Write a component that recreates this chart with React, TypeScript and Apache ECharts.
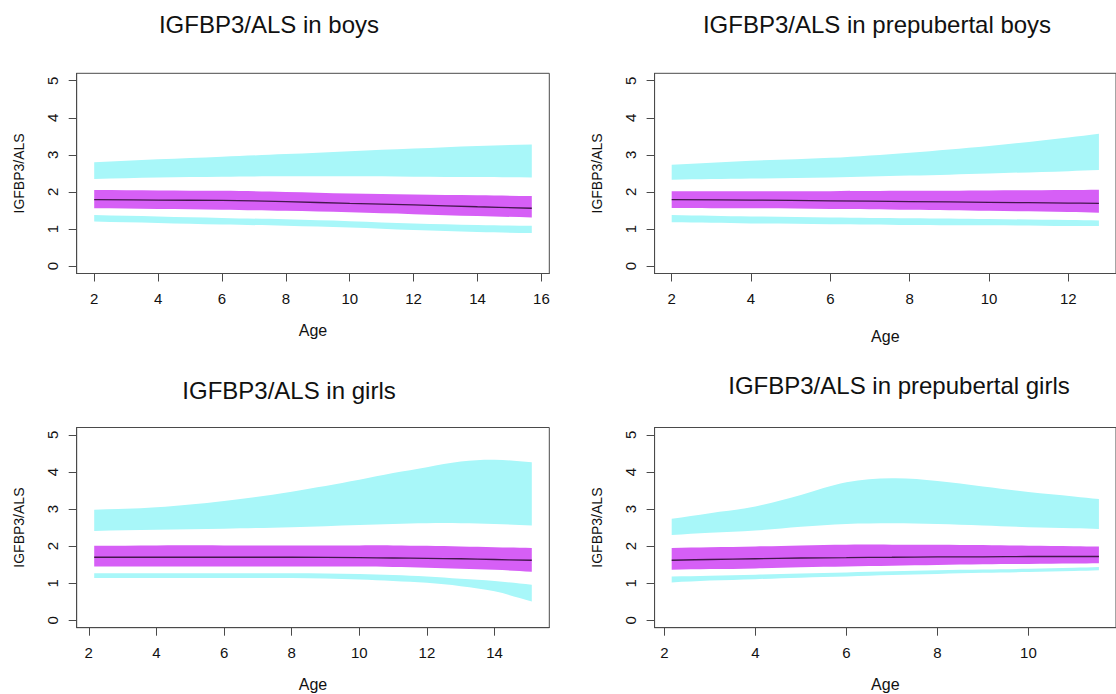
import React, { useEffect, useRef } from "react";
import * as echarts from "echarts";

// ---------- data ----------
const titles = [
  "IGFBP3/ALS in boys",
  "IGFBP3/ALS in prepubertal boys",
  "IGFBP3/ALS in girls",
  "IGFBP3/ALS in prepubertal girls",
];
const xAxisName = "Age";
const yAxisName = "IGFBP3/ALS";
const yTicks = [0, 1, 2, 3, 4, 5];

// Boys
const boysAge = [2, 4, 6, 8, 10, 12, 14, 15.7];
const boysUpperHi = [2.8, 2.88, 2.95, 3.02, 3.1, 3.17, 3.24, 3.28];
const boysUpperLo = [2.35, 2.39, 2.41, 2.42, 2.42, 2.41, 2.4, 2.39];
const boysMedHi = [2.05, 2.04, 2.03, 2.0, 1.96, 1.93, 1.91, 1.89];
const boysMedLo = [1.56, 1.54, 1.52, 1.49, 1.45, 1.4, 1.35, 1.31];
const boysMedian = [1.79, 1.78, 1.77, 1.74, 1.69, 1.65, 1.6, 1.56];
const boysLowerHi = [1.38, 1.34, 1.3, 1.26, 1.21, 1.15, 1.11, 1.09];
const boysLowerLo = [1.2, 1.16, 1.12, 1.09, 1.04, 0.97, 0.92, 0.89];
const boysXTicks = [2, 4, 6, 8, 10, 12, 14, 16];

// Prepubertal boys
const pBoysAge = [2, 4, 6, 8, 10, 12, 12.77];
const pBoysUpperHi = [2.73, 2.84, 2.92, 3.06, 3.24, 3.47, 3.57];
const pBoysUpperLo = [2.33, 2.36, 2.39, 2.44, 2.5, 2.56, 2.59];
const pBoysMedHi = [2.02, 2.02, 2.02, 2.03, 2.04, 2.05, 2.06];
const pBoysMedLo = [1.57, 1.56, 1.54, 1.52, 1.49, 1.46, 1.44];
const pBoysMedian = [1.79, 1.78, 1.76, 1.74, 1.72, 1.7, 1.69];
const pBoysLowerHi = [1.38, 1.34, 1.31, 1.29, 1.27, 1.24, 1.23];
const pBoysLowerLo = [1.18, 1.15, 1.13, 1.11, 1.1, 1.08, 1.08];
const pBoysXTicks = [2, 4, 6, 8, 10, 12];

// Girls
const girlsAge = [2.16, 4, 6, 8, 10, 11, 12, 13, 14, 15.1];
const girlsUpperHi = [2.98, 3.05, 3.22, 3.47, 3.79, 3.97, 4.13, 4.28, 4.33, 4.26];
const girlsUpperLo = [2.41, 2.44, 2.47, 2.51, 2.57, 2.6, 2.62, 2.62, 2.6, 2.56];
const girlsMedHi = [2.01, 2.02, 2.02, 2.02, 2.02, 2.02, 2.01, 1.99, 1.97, 1.95];
const girlsMedLo = [1.45, 1.45, 1.45, 1.45, 1.45, 1.44, 1.42, 1.39, 1.36, 1.31];
const girlsMedian = [1.7, 1.7, 1.7, 1.7, 1.69, 1.68, 1.67, 1.66, 1.64, 1.62];
const girlsLowerHi = [1.27, 1.27, 1.27, 1.27, 1.25, 1.22, 1.18, 1.12, 1.06, 0.96];
const girlsLowerLo = [1.14, 1.14, 1.14, 1.14, 1.1, 1.06, 1.01, 0.92, 0.78, 0.51];
const girlsXTicks = [2, 4, 6, 8, 10, 12, 14];

// Prepubertal girls
const pGirlsAge = [2.16, 3, 4, 5, 6, 7, 8, 9, 10, 11, 11.55];
const pGirlsUpperHi = [2.74, 2.89, 3.07, 3.38, 3.72, 3.83, 3.76, 3.61, 3.46, 3.34, 3.27];
const pGirlsUpperLo = [2.3, 2.36, 2.42, 2.52, 2.6, 2.62, 2.6, 2.56, 2.51, 2.48, 2.46];
const pGirlsMedHi = [1.95, 1.97, 1.99, 2.02, 2.04, 2.04, 2.04, 2.03, 2.01, 2.0, 1.99];
const pGirlsMedLo = [1.36, 1.38, 1.4, 1.43, 1.45, 1.47, 1.49, 1.51, 1.52, 1.53, 1.54];
const pGirlsMedian = [1.62, 1.64, 1.66, 1.68, 1.69, 1.7, 1.71, 1.71, 1.72, 1.72, 1.72];
const pGirlsLowerHi = [1.18, 1.2, 1.23, 1.26, 1.29, 1.32, 1.35, 1.37, 1.39, 1.42, 1.44];
const pGirlsLowerLo = [1.02, 1.07, 1.11, 1.15, 1.18, 1.22, 1.25, 1.28, 1.3, 1.33, 1.35];
const pGirlsXTicks = [2, 4, 6, 8, 10];

// ---------- styles / layout ----------
const CYAN = "#a8f7f9";
const MAGENTA = "#d65ff6";
const LINE = "#45174f";
const AXIS = "#4a4a4a";
const TEXT = "#111111";
const FONT = "'Liberation Sans', Arial, Helvetica, sans-serif";

const panelData = [
  { age: boysAge, uHi: boysUpperHi, uLo: boysUpperLo, mHi: boysMedHi, mLo: boysMedLo, med: boysMedian, lHi: boysLowerHi, lLo: boysLowerLo, ticks: boysXTicks },
  { age: pBoysAge, uHi: pBoysUpperHi, uLo: pBoysUpperLo, mHi: pBoysMedHi, mLo: pBoysMedLo, med: pBoysMedian, lHi: pBoysLowerHi, lLo: pBoysLowerLo, ticks: pBoysXTicks },
  { age: girlsAge, uHi: girlsUpperHi, uLo: girlsUpperLo, mHi: girlsMedHi, mLo: girlsMedLo, med: girlsMedian, lHi: girlsLowerHi, lLo: girlsLowerLo, ticks: girlsXTicks },
  { age: pGirlsAge, uHi: pGirlsUpperHi, uLo: pGirlsUpperLo, mHi: pGirlsMedHi, mLo: pGirlsMedLo, med: pGirlsMedian, lHi: pGirlsLowerHi, lLo: pGirlsLowerLo, ticks: pGirlsXTicks },
];

const layout = [
  { left: 76.7, top: 73.3, titleX: 269, titleY: 24, xGap: 48.5 },
  { left: 654.6, top: 73.3, titleX: 877, titleY: 24, xGap: 54.5 },
  { left: 76.7, top: 427.5, titleX: 289, titleY: 390, xGap: 49 },
  { left: 654.6, top: 427.5, titleX: 899, titleY: 385, xGap: 49 },
];
const BOX_W = 472.6;
const BOX_H = 200.2;
const SMOOTH = 0.35;

// R-style 4% axis extension of the data range
function ext(arr: number[]): [number, number] {
  const lo = arr[0];
  const hi = arr[arr.length - 1];
  const d = (hi - lo) * 0.04;
  return [lo - d, hi + d];
}

// A band (between lo and hi) drawn as one smooth polygon through the axis scales.
function bandSeries(i: number, age: number[], lo: number[], hi: number[], color: string, z: number) {
  const n = age.length;
  return {
    type: "custom",
    coordinateSystem: "cartesian2d",
    xAxisIndex: i,
    yAxisIndex: i,
    silent: true,
    z,
    encode: { x: 0, y: [1, 2] },
    data: age.map((a, k) => [a, lo[k], hi[k]]),
    renderItem: (params: any, api: any) => {
      if (params.dataIndexInside !== 0) return null;
      const top: number[][] = [];
      const bottom: number[][] = [];
      for (let k = 0; k < n; k++) {
        const x = api.value(0, k);
        top.push(api.coord([x, api.value(2, k)]));
        bottom.push(api.coord([x, api.value(1, k)]));
      }
      bottom.reverse();
      // duplicate the four corners so the ends stay square when smoothed
      const pts: number[][] = [];
      top.forEach((p, k) => {
        pts.push(p);
        if (k === 0 || k === n - 1) pts.push(p.slice());
      });
      bottom.forEach((p, k) => {
        pts.push(p);
        if (k === 0 || k === n - 1) pts.push(p.slice());
      });
      return {
        type: "polygon",
        shape: { points: pts, smooth: SMOOTH },
        style: { fill: color, stroke: null, lineWidth: 0 },
      };
    },
  };
}

function buildOption() {
  const grid: any[] = [];
  const xAxis: any[] = [];
  const yAxis: any[] = [];
  const series: any[] = [];
  const graphic: any[] = [];

  panelData.forEach((p, i) => {
    const L = layout[i];
    grid.push({
      left: L.left,
      top: L.top,
      width: BOX_W,
      height: BOX_H,
      show: true,
      borderColor: AXIS,
      borderWidth: 1,
      backgroundColor: "transparent",
      containLabel: false,
    });
    const [xmin, xmax] = ext(p.age);
    xAxis.push({
      type: "value",
      gridIndex: i,
      min: xmin,
      max: xmax,
      z: 10,
      name: xAxisName,
      nameLocation: "middle",
      nameGap: L.xGap,
      nameTextStyle: { fontSize: 16, color: TEXT, fontFamily: FONT },
      axisLine: { show: true, onZero: false, lineStyle: { color: AXIS, width: 1 } },
      axisTick: { show: true, length: 8, lineStyle: { color: AXIS, width: 1 }, customValues: p.ticks },
      axisLabel: { show: true, margin: 17, fontSize: 15, color: TEXT, fontFamily: FONT, customValues: p.ticks },
      splitLine: { show: false },
    });
    yAxis.push({
      type: "value",
      gridIndex: i,
      min: -0.2,
      max: 5.2,
      z: 10,
      name: yAxisName,
      nameLocation: "middle",
      nameGap: 51,
      nameTextStyle: { fontSize: 14, color: TEXT, fontFamily: FONT },
      axisLine: { show: true, onZero: false, lineStyle: { color: AXIS, width: 1 } },
      axisTick: { show: true, length: 8, lineStyle: { color: AXIS, width: 1 }, customValues: yTicks },
      axisLabel: { show: true, rotate: 90, margin: 17, fontSize: 15, color: TEXT, fontFamily: FONT, customValues: yTicks },
      splitLine: { show: false },
    });

    series.push(bandSeries(i, p.age, p.uLo, p.uHi, CYAN, 2));
    series.push(bandSeries(i, p.age, p.mLo, p.mHi, MAGENTA, 3));
    series.push(bandSeries(i, p.age, p.lLo, p.lHi, CYAN, 4));

    series.push({
      type: "line",
      xAxisIndex: i,
      yAxisIndex: i,
      smooth: SMOOTH,
      showSymbol: false,
      symbol: "none",
      silent: true,
      lineStyle: { width: 1.3, color: LINE },
      data: p.age.map((a, k) => [a, p.med[k]]),
      z: 7,
    });

    graphic.push({
      type: "text",
      x: L.titleX,
      y: L.titleY,
      style: {
        text: titles[i],
        fontSize: 24,
        fontFamily: FONT,
        fill: TEXT,
        align: "center",
        verticalAlign: "middle",
      },
    });
  });

  return {
    animation: false,
    backgroundColor: "#ffffff",
    grid,
    xAxis,
    yAxis,
    series,
    graphic,
  };
}

export default function App() {
  const ref = useRef<HTMLDivElement>(null);
  useEffect(() => {
    if (!ref.current) return;
    const chart = echarts.init(ref.current, undefined, { renderer: "svg" });
    chart.setOption(buildOption() as any);
    return () => chart.dispose();
  }, []);
  return (
    <div
      ref={ref}
      style={{ position: "absolute", left: 0, top: 0, width: 1116, height: 694, background: "#fff" }}
    />
  );
}
